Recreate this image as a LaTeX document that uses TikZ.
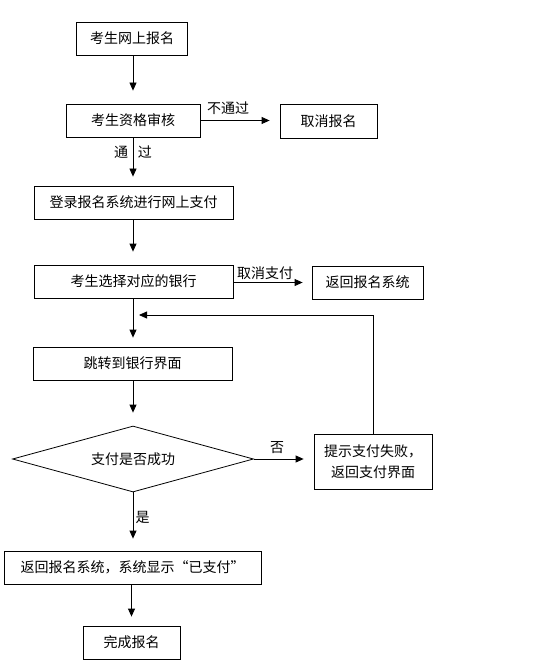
\documentclass[tikz,border=0pt]{standalone}
\usepackage{fontspec}
\setmainfont{Noto Sans CJK SC}
\usetikzlibrary{arrows.meta,shapes.geometric}

\begin{document}
\begin{tikzpicture}[x=1pt,y=-1pt,
        box/.style={draw=black,line width=0.8pt,minimum height=33pt,inner sep=0pt,
            font=\fontsize{14}{21}\selectfont,align=center},
        lab/.style={inner sep=0pt,font=\fontsize{14}{17}\selectfont},
        arr/.style={draw=black,line width=0.8pt,-{Triangle[length=8pt,width=7pt]}}]
    \useasboundingbox (0,0) rectangle (545,668);

    % Colonna principale
    \node[box,minimum width=111pt] (signup) at (132,38.5) {考生网上报名};
    \node[box,minimum width=134pt] (check) at (133,120.5) {考生资格审核};
    \node[box,minimum width=199pt] (login) at (133.5,202.5) {登录报名系统进行网上支付};
    \node[box,minimum width=199pt] (bank) at (133.5,281.5) {考生选择对应的银行};
    \node[box,minimum width=199pt] (jump) at (132.5,363.5) {跳转到银行界面};
    \node[diamond,draw=black,line width=0.8pt,minimum width=241pt,minimum height=66pt,
        aspect=3.6,inner sep=0pt,font=\fontsize{14}{17}\selectfont] (paid) at (133,459) {支付是否成功};
    \node[box,minimum width=257pt] (back) at (132.5,567.5) {返回报名系统，系统显示“已支付”};
    \node[box,minimum width=97pt] (done) at (131.5,642.5) {完成报名};

    % Rami laterali
    \node[box,minimum width=97pt,minimum height=34pt] (cancel) at (328.5,121) {取消报名};
    \node[box,minimum width=111pt] (sysret) at (367.5,282.5) {返回报名系统};
    \node[box,minimum width=118pt,minimum height=55pt] (fail) at (373,461.5) {提示支付失败，\\返回支付界面};
    \coordinate (loopin) at (139,315);

    % Frecce
    \draw[arr,shorten >=13pt] (check.north |- signup.south) -- (check.north);
    \draw[arr,shorten >=9pt] (check.south) -- (check.south |- login.north);
    \draw[arr,shorten >=13pt] (check.south |- login.south) -- (check.south |- bank.north);
    \draw[arr,shorten >=9pt] (check.south |- bank.south) -- (check.south |- jump.north);
    \draw[arr,shorten >=13pt] (check.south |- jump.south) -- (paid.north);
    \draw[arr,shorten >=12pt] (paid.south) -- (paid.south |- back.north);
    \draw[arr,shorten >=9pt] (done.north |- back.south) -- (done.north);
    \draw[arr,shorten >=10pt] (check.east) -- (check.east -| cancel.west);
    \draw[arr,shorten >=9pt] (bank.east |- sysret.west) -- (sysret.west);
    \draw[arr,shorten >=10pt] (paid.east) -- (paid.east -| fail.west);
    \draw[arr] (fail.north) |- (loopin);

    % Etichette
    \node[lab] (nopass) at (228,108) {不通过};
    \node[lab] (pass) at (133,152) {通\hspace{10pt}过};
    \node[lab] (nopay) at (265,273) {取消支付};
    \node[lab] (no) at (277,448) {否};
    \node[lab] (yes) at (142.5,517) {是};
\end{tikzpicture}
\end{document}
